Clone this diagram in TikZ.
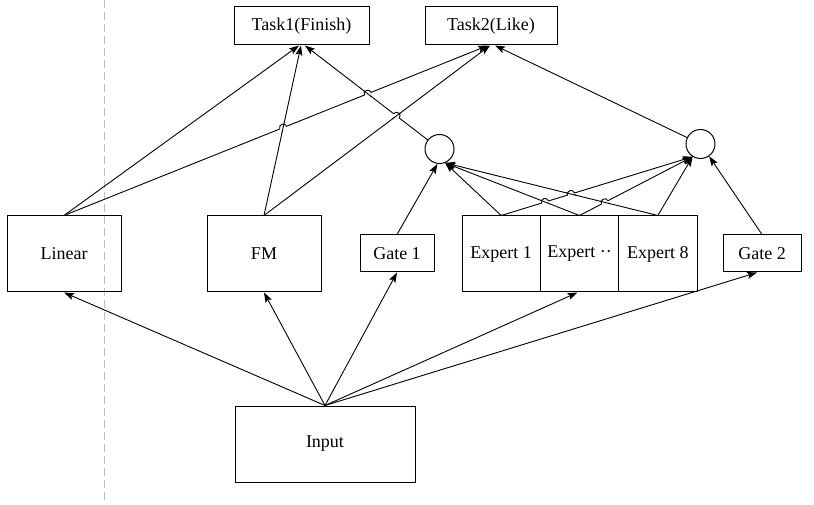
\documentclass[tikz,border=0pt]{standalone}
\usepackage{fontspec}
\setmainfont{Liberation Serif}
\usetikzlibrary{arrows.meta,calc,intersections}
\newcommand\myhop[4]{%
  \path[name path=hA] (#1) -- (#2);
  \path[name path=hB] (#3) -- (#4);
  \path[name intersections={of=hA and hB, by=hX}];
  \fill[white] (hX) circle (3.6);
  \draw[ln] ($(hX)!5pt!(#3)$) -- ($(hX)!5pt!(#4)$);
  \draw[ln] ($(hX)!3.6pt!(#1)$) to[bend left=90,looseness=1.7] ($(hX)!3.6pt!(#2)$);
}
\begin{document}
\begin{tikzpicture}[x=1pt,y=1pt,
  box/.style={draw, line width=1pt, inner sep=0pt, font=\fontsize{18}{20}\selectfont},
  ln/.style={line width=0.9pt},
  arr/.style={ln, -{Stealth[length=10pt,width=7pt,inset=2pt]}},
  gatebox/.style={box, minimum height=37pt},
  bigbox/.style={box, minimum width=114pt, minimum height=76pt},
  expbox/.style={box, minimum width=78.33pt, minimum height=76pt},
  taskbox/.style={box, minimum height=38pt},
  sumnode/.style={draw, line width=1pt, circle, minimum size=29pt, inner sep=0pt},
  sep/.style={draw=black!25, line width=1pt, dash pattern=on 8pt off 4pt}
]
\useasboundingbox (0,0) rectangle (814,504);
\fill[white] (0,0) rectangle (814,504);
\coordinate (septop) at (104,504);
\coordinate (sepbot) at (104,0);
\draw[sep] (septop) -- (sepbot);

\node[taskbox, minimum width=135pt] (t1) at (301.5,478) {Task1(Finish)};
\node[taskbox, minimum width=132pt] (t2) at (491,478) {Task2(Like)};
\node[bigbox] (lin) at (64,250) {Linear};
\node[bigbox] (fm) at (264,250) {FM};
\node[gatebox, minimum width=74pt] (g1) at (397,250.5) {Gate 1};
\node[expbox] (e1) at (501.17,250) {Expert 1};
\node[expbox] (ed) at (579.5,250) {Expert ··};
\node[expbox] (e8) at (657.83,250) {Expert 8};
\node[gatebox, minimum width=78pt] (g2) at (762,250.5) {Gate 2};
\node[box, minimum width=180pt, minimum height=76pt] (in) at (325,60) {Input};
\node[sumnode] (c1) at (439.5,355) {};
\node[sumnode] (c2) at (700.5,360) {};

\coordinate (t1a) at ($(t1.south)+(-2.5,0)$);
\coordinate (t1b) at ($(t1.south)+(-0.5,0)$);
\coordinate (t1c) at ($(t1.south)+(3.5,0)$);
\coordinate (t2a) at ($(t2.south)+(-3,0)$);
\coordinate (t2b) at ($(t2.south)+(-1,0)$);
\coordinate (t2c) at ($(t2.south)+(4,0)$);
\coordinate (c1g) at (c1.-98);
\coordinate (c1e) at (c1.-68);
\coordinate (c2e) at (c2.-122);
\coordinate (c2g) at (c2.-55);

% input fan-out
\draw[arr] (in.north) -- (lin.south);
\draw[arr] (in.north) -- (fm.south);
\draw[arr] (in.north) -- (g1.south);
\draw[arr] (in.north) -- ($(ed.south)+(-2,0)$);
\draw[arr] (in.north) -- ($(g2.south)+(-5,0)$);

% towers
\draw[arr] (lin.north) -- (t1a);
\draw[arr] (lin.north) -- (t2a);
\draw[arr] (fm.north) -- (t1b);
\draw[arr] (fm.north) -- (t2b);
\draw[arr] (c1) -- (t1c);
\draw[arr] (c2) -- (t2c);

% gates
\draw[arr] (g1.north) -- (c1g);
\draw[arr] (g2.north) -- (c2g);

% experts
\draw[arr] (e1.north) -- (c1e);
\draw[arr] (ed.north) -- (c1e);
\draw[arr] (e8.north) -- (c1e);
\draw[arr] (e1.north) -- (c2e);
\draw[arr] (ed.north) -- (c2e);
\draw[arr] (e8.north) -- (c2e);

% line jumps
\myhop{lin.north}{t2a}{fm.north}{t1b}
\myhop{lin.north}{t2a}{c1}{t1c}
\myhop{t1c}{c1}{fm.north}{t2b}
\myhop{e1.north}{c2e}{ed.north}{c1e}
\myhop{e1.north}{c2e}{e8.north}{c1e}
\myhop{ed.north}{c2e}{e8.north}{c1e}
\end{tikzpicture}
\end{document}
